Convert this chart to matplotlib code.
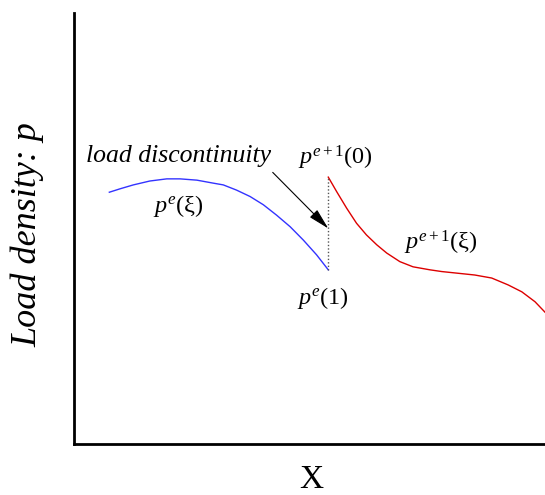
import matplotlib
matplotlib.use("Agg")
import matplotlib.pyplot as plt

plt.rcParams["font.family"] = ["Liberation Serif", "DejaVu Serif"]
plt.rcParams["mathtext.fontset"] = "custom"
plt.rcParams["mathtext.rm"] = "Liberation Serif"
plt.rcParams["mathtext.it"] = "Liberation Serif:italic"
plt.rcParams["mathtext.bf"] = "Liberation Serif:bold"

# element e (left) and element e+1 (right) load densities
elem_e_x = [0.75, 0.98, 1.26, 1.61, 1.97, 2.25, 2.61, 2.96, 3.17, 3.45, 3.74,
            4.02, 4.30, 4.59, 4.87, 5.15, 5.40]
elem_e_p = [5.84, 5.92, 6.01, 6.10, 6.15, 6.15, 6.12, 6.05, 6.01, 5.89, 5.74,
            5.55, 5.31, 5.04, 4.73, 4.39, 4.04]

elem_e1_x = [5.40, 5.58, 5.79, 6.00, 6.21, 6.43, 6.64, 6.92, 7.20, 7.56, 7.81,
             8.16, 8.51, 8.87, 9.22, 9.51, 9.79, 10.0]
elem_e1_p = [6.19, 5.85, 5.47, 5.12, 4.85, 4.62, 4.43, 4.23, 4.11, 4.04, 4.00,
             3.96, 3.92, 3.85, 3.69, 3.53, 3.30, 3.06]

x_node = elem_e_x[-1]
jump_lo, jump_hi = elem_e_p[-1], elem_e1_p[0]

fig = plt.figure(figsize=(5.45, 4.95), dpi=100)
ax = fig.add_axes([0.1358, 0.103, 0.864, 0.871])

ax.plot(elem_e_x, elem_e_p, color="#3333ff", lw=1.0, solid_joinstyle="round")
ax.plot(elem_e1_x, elem_e1_p, color="#dd0000", lw=1.0, solid_joinstyle="round")
ax.plot([x_node, x_node], [jump_lo, jump_hi], color="#555555", lw=1.0,
        linestyle=(0, (1, 1.5)))

# arrow pointing at the jump
ax.annotate("", xy=(x_node, 5.00), xytext=(4.22, 6.30),
            arrowprops=dict(arrowstyle="-|>,head_length=0.65,head_width=0.16",
                            mutation_scale=20, color="black", lw=0.8,
                            shrinkA=0, shrinkB=0))

ax.text(2.21, 6.54, "load discontinuity", fontsize=18.5, style="italic",
        ha="center", va="baseline")
ax.text(2.21, 5.52, r"$p^{e}\mathrm{(\xi)}$", fontsize=17.5, ha="center", va="center")
ax.text(5.56, 6.64, r"$p^{e+1}\mathrm{(0)}$", fontsize=17.5, ha="center", va="center")
ax.text(5.29, 3.39, r"$p^{e}\mathrm{(1)}$", fontsize=17.5, ha="center", va="center")
ax.text(7.79, 4.66, r"$p^{e+1}\mathrm{(\xi)}$", fontsize=17.5, ha="center", va="center")

ax.set_xlim(0, 10)
ax.set_ylim(0, 10)
ax.set_xticks([])
ax.set_yticks([])
for side in ("top", "right"):
    ax.spines[side].set_visible(False)
for side in ("left", "bottom"):
    ax.spines[side].set_linewidth(2.0)
    ax.spines[side].set_color("black")

fig.text(0.0514, 0.526, "Load density: p", fontsize=26, style="italic",
         rotation=90, ha="center", va="center")
fig.text(0.571, 0.030, "X", fontsize=24, ha="center", va="center")

fig.savefig("out.png", dpi=100)
